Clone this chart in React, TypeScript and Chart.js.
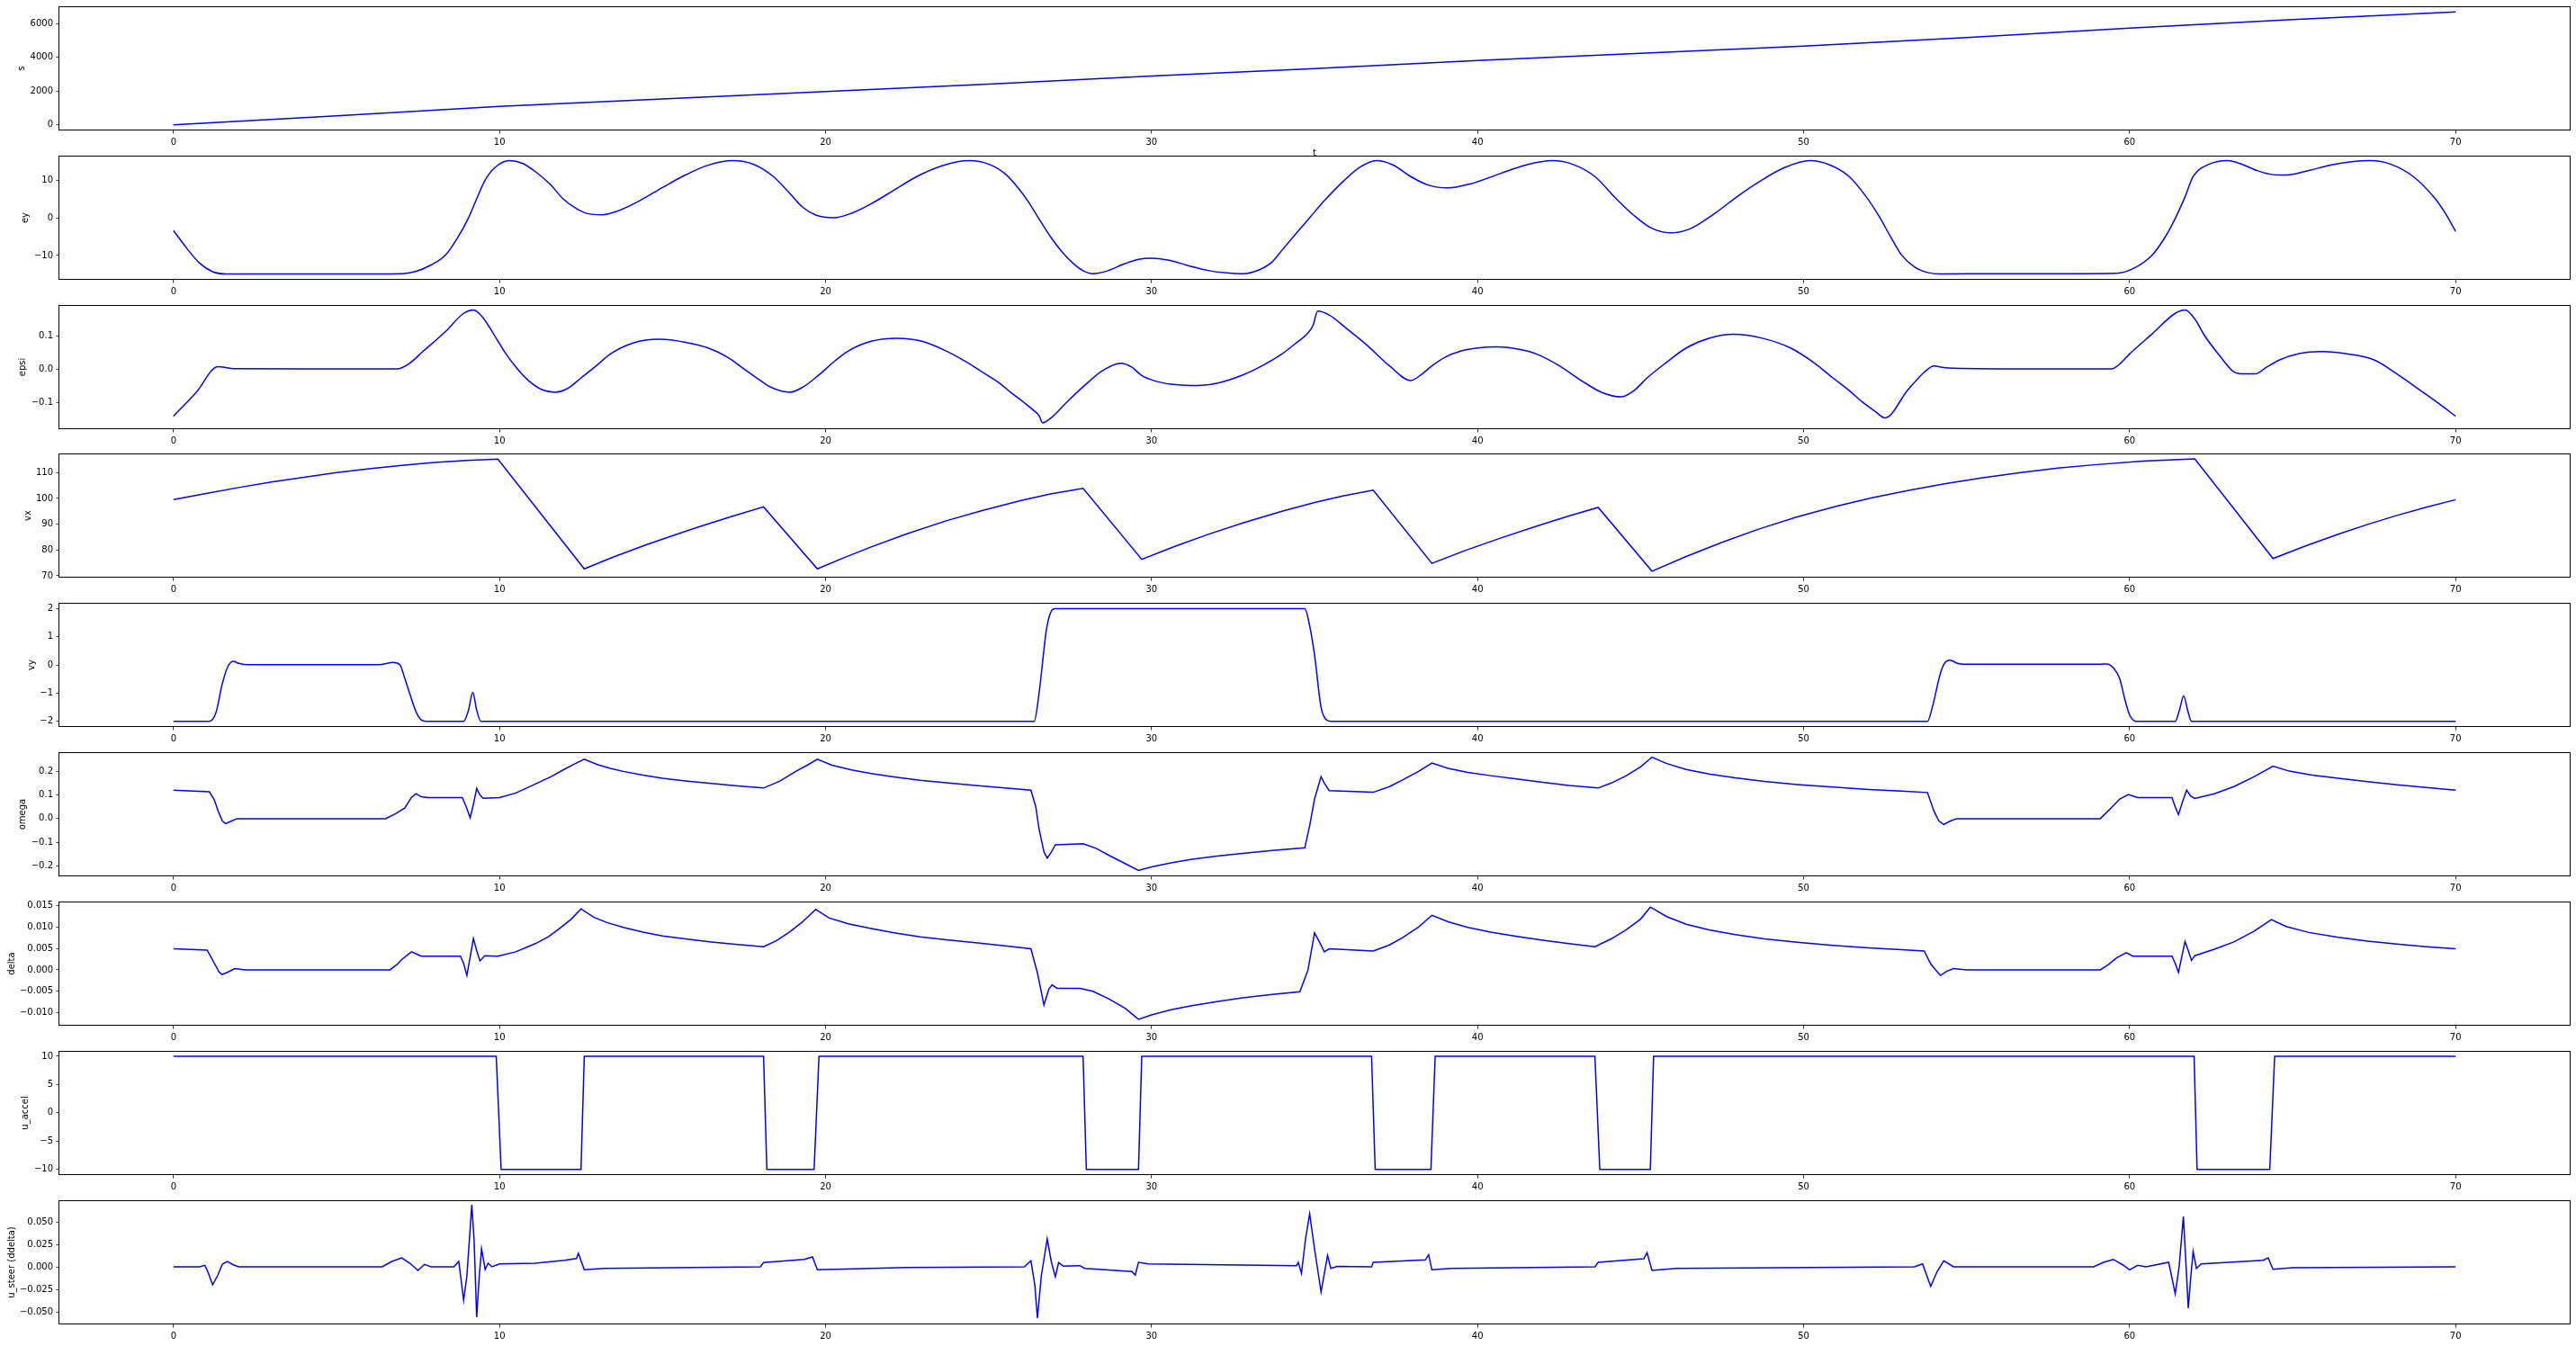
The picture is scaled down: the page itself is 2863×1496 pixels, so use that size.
import React, { useEffect, useRef } from 'react';
import { Chart, registerables } from 'chart.js';
Chart.register(...registerables);

const FONT_FAMILY = "'DejaVu Sans', sans-serif";
const X_TICKS = [0, 10, 20, 30, 40, 50, 60, 70];
const X_LABEL = 't';

// (time, value) readings for each series
const S_DATA: [number, number][] = [[0, 0], [5, 535], [10, 1095], [15, 1535], [20, 1980], [25, 2420], [30, 2900], [35, 3345], [40, 3815], [45, 4245], [50, 4670], [55, 5180], [60, 5740], [65, 6255], [70, 6705]];

const EY_DATA: [number, number][] = [[0, -3.4], [0.4, -8.0], [0.8, -12.0], [1.2, -14.3], [1.6, -14.9], [3, -14.9], [5, -14.9], [7.0, -14.8], [7.4, -14.3], [7.9, -12.5], [8.35, -9.8], [8.7, -5.5], [9.04, -0.2], [9.3, 5], [9.55, 9.8], [9.85, 13.2], [10.3, 15.1], [10.7, 14.4], [11.1, 12.2], [11.56, 8.8], [11.95, 5.0], [12.36, 2.4], [12.7, 1.1], [13.16, 0.8], [13.6, 1.7], [14.3, 4.5], [15.0, 8.0], [15.7, 11.3], [16.4, 13.9], [17.16, 15.1], [17.8, 14.1], [18.4, 10.9], [18.9, 6.5], [19.3, 2.8], [19.7, 0.7], [20.25, 0.0], [20.8, 1.2], [21.4, 3.7], [22.1, 7.3], [22.8, 10.9], [23.6, 13.8], [24.4, 15.1], [25.0, 14.2], [25.5, 11.7], [25.9, 8.0], [26.2, 4.5], [26.6, -1.0], [26.9, -5.0], [27.25, -9.0], [27.6, -12.1], [27.9, -14.0], [28.2, -14.8], [28.6, -14.2], [29.2, -12.1], [29.6, -11.0], [30.0, -10.7], [30.5, -11.2], [31.1, -12.6], [31.7, -13.9], [32.3, -14.6], [32.8, -14.8], [33.3, -13.8], [33.7, -11.7], [34.0, -8.6], [34.5, -3.5], [34.85, 0.0], [35.3, 4.5], [35.9, 9.8], [36.4, 13.4], [36.9, 15.1], [37.4, 14.0], [37.95, 10.9], [38.5, 8.6], [39.1, 7.9], [39.8, 9.0], [40.7, 11.7], [41.5, 14.0], [42.3, 15.1], [42.9, 14.2], [43.6, 10.9], [44.2, 5.5], [44.8, 0.6], [45.3, -2.6], [45.9, -4.0], [46.5, -3.0], [47.3, 1.3], [48.0, 5.8], [48.6, 9.3], [49.4, 13.2], [50.2, 15.1], [50.8, 14.0], [51.4, 10.9], [51.9, 5.8], [52.3, 0.6], [52.7, -5.5], [53.0, -9.8], [53.4, -13.0], [53.8, -14.5], [54.2, -14.9], [56, -14.8], [58, -14.8], [59.6, -14.7], [60.1, -13.5], [60.7, -9.8], [61.1, -5.0], [61.4, -0.2], [61.7, 5.5], [61.95, 10.9], [62.4, 14.0], [63.0, 15.1], [63.4, 14.3], [63.9, 12.5], [64.4, 11.4], [64.8, 11.3], [65.5, 12.5], [66.2, 14.0], [66.8, 14.8], [67.4, 15.1], [68.0, 14.2], [68.7, 10.9], [69.35, 5.3], [69.7, 1.0], [70.0, -3.6]];

const EPSI_DATA: [number, number][] = [[0, -0.142], [0.7, -0.07], [1.37, 0.007], [1.6, 0.004], [1.83, 0.001], [4, 0.0], [6.86, 0.0], [7.2, 0.014], [7.67, 0.054], [8.35, 0.113], [8.9, 0.167], [9.2, 0.177], [9.5, 0.153], [9.85, 0.1], [10.2, 0.045], [10.55, 0.0], [10.9, -0.036], [11.3, -0.062], [11.7, -0.07], [12.1, -0.058], [12.5, -0.027], [13.0, 0.012], [13.4, 0.045], [14.1, 0.078], [14.9, 0.089], [15.7, 0.08], [16.4, 0.063], [17.0, 0.035], [17.5, 0.0], [18.0, -0.035], [18.3, -0.054], [18.9, -0.07], [19.3, -0.055], [19.8, -0.018], [20.3, 0.025], [20.7, 0.054], [21.4, 0.083], [22.2, 0.092], [23.0, 0.082], [23.7, 0.054], [24.3, 0.022], [24.8, -0.009], [25.3, -0.04], [25.7, -0.072], [26.1, -0.102], [26.4, -0.126], [26.55, -0.14], [26.66, -0.162], [26.93, -0.146], [27.4, -0.1], [28.0, -0.045], [28.5, -0.005], [29.06, 0.017], [29.4, 0.005], [29.7, -0.02], [30.1, -0.036], [30.6, -0.046], [31.2, -0.05], [32.0, -0.043], [32.8, -0.018], [33.4, 0.01], [34.0, 0.045], [34.4, 0.075], [34.8, 0.108], [34.95, 0.13], [35.1, 0.174], [35.45, 0.162], [36.0, 0.12], [36.6, 0.072], [37.3, 0.009], [37.95, -0.035], [38.3, -0.015], [38.6, 0.009], [39.0, 0.035], [39.5, 0.054], [40.0, 0.063], [40.6, 0.066], [41.2, 0.06], [41.8, 0.045], [42.5, 0.01], [43.2, -0.036], [43.8, -0.07], [44.4, -0.084], [44.8, -0.065], [45.2, -0.027], [45.8, 0.02], [46.4, 0.063], [47.1, 0.092], [47.85, 0.104], [48.7, 0.093], [49.6, 0.063], [50.3, 0.02], [50.9, -0.027], [51.4, -0.065], [51.8, -0.099], [52.2, -0.128], [52.5, -0.147], [53.2, -0.063], [53.7, -0.01], [54.0, 0.009], [54.3, 0.004], [54.6, 0.002], [57, 0.0], [59.45, 0.0], [59.7, 0.015], [60.0, 0.045], [60.7, 0.106], [61.4, 0.167], [61.7, 0.177], [62.0, 0.15], [62.3, 0.1], [62.8, 0.035], [63.2, -0.009], [63.5, -0.015], [63.85, -0.015], [64.2, 0.005], [64.6, 0.027], [65.2, 0.046], [65.9, 0.052], [66.7, 0.045], [67.5, 0.027], [68.2, -0.015], [68.9, -0.063], [69.5, -0.105], [70.0, -0.142]];

const VX_DATA: [number, number][] = [[0, 99.5], [1, 101.9], [2, 104.2], [3, 106.3], [4, 108.2], [5, 110.0], [6, 111.5], [7, 112.8], [8, 113.9], [9, 114.7], [9.95, 115.2], [12.6, 72.7], [13.5, 77.3], [14.5, 82.0], [15.3, 85.5], [16.1, 88.9], [17.1, 92.9], [18.1, 96.7], [19.75, 72.7], [20.6, 77.2], [21.4, 81.2], [22.5, 86.3], [23.7, 91.3], [24.8, 95.3], [26.0, 99.2], [26.9, 101.7], [27.9, 103.9], [29.7, 76.4], [30.7, 81.3], [31.7, 85.9], [32.8, 90.5], [34.0, 95.0], [35.0, 98.4], [35.9, 101.0], [36.8, 103.2], [38.6, 74.8], [39.6, 79.7], [40.7, 84.6], [41.9, 89.6], [42.8, 93.2], [43.7, 96.5], [45.35, 71.8], [46.4, 77.5], [47.5, 83.0], [48.6, 88.0], [49.8, 92.8], [51.0, 96.9], [52.1, 100.2], [53.3, 103.3], [54.4, 105.8], [55.5, 108.0], [56.6, 109.9], [57.8, 111.7], [58.9, 113.0], [60.4, 114.4], [62.0, 115.3], [64.4, 76.7], [65.4, 81.6], [66.4, 86.1], [67.3, 89.9], [68.2, 93.4], [69.1, 96.6], [70.0, 99.5]];

const VY_DATA: [number, number][] = [[0, -2], [1.1, -2], [1.3, -1.7], [1.49, -0.7], [1.65, -0.1], [1.83, 0.13], [2.0, 0.06], [2.29, 0.01], [6.3, 0.01], [6.75, 0.09], [6.95, 0.0], [7.1, -0.49], [7.3, -1.2], [7.44, -1.66], [7.6, -1.95], [7.75, -2], [8.9, -2], [9.05, -1.6], [9.18, -0.97], [9.3, -1.6], [9.43, -2], [26.4, -2], [26.55, -1.0], [26.77, 1.21], [26.9, 1.85], [27.05, 2.0], [34.7, 2.0], [34.85, 1.4], [35.0, 0.36], [35.2, -1.5], [35.35, -1.93], [35.5, -2], [53.8, -2], [53.95, -1.5], [54.2, -0.28], [54.35, 0.1], [54.5, 0.17], [54.7, 0.07], [54.9, 0.03], [59.1, 0.03], [59.3, 0.04], [59.5, -0.1], [59.7, -0.49], [59.85, -1.2], [60.0, -1.77], [60.2, -2], [61.4, -2], [61.53, -1.6], [61.66, -1.1], [61.78, -1.6], [61.9, -2], [70, -2]];

const OMEGA_DATA: [number, number][] = [[0, 0.12], [1.1, 0.113], [1.25, 0.08], [1.37, 0.032], [1.5, -0.01], [1.6, -0.021], [1.75, -0.012], [1.95, 0.0], [6.5, 0.0], [6.8, 0.02], [7.1, 0.045], [7.3, 0.09], [7.44, 0.105], [7.6, 0.092], [7.8, 0.089], [8.86, 0.089], [8.98, 0.05], [9.1, 0.004], [9.2, 0.06], [9.3, 0.127], [9.4, 0.1], [9.5, 0.086], [10.0, 0.089], [10.5, 0.108], [11.1, 0.146], [11.6, 0.178], [12.0, 0.209], [12.3, 0.23], [12.6, 0.25], [13.0, 0.228], [13.4, 0.212], [13.8, 0.199], [14.4, 0.183], [15.0, 0.17], [15.7, 0.159], [16.5, 0.148], [17.3, 0.138], [18.1, 0.129], [18.6, 0.158], [19.1, 0.2], [19.45, 0.226], [19.75, 0.25], [20.2, 0.225], [20.8, 0.205], [21.4, 0.19], [22.1, 0.176], [22.9, 0.162], [23.7, 0.151], [24.6, 0.14], [25.5, 0.129], [26.3, 0.12], [26.45, 0.05], [26.55, -0.044], [26.7, -0.14], [26.8, -0.166], [26.93, -0.14], [27.05, -0.11], [27.9, -0.106], [28.3, -0.125], [28.7, -0.155], [29.2, -0.19], [29.6, -0.218], [30.0, -0.203], [30.6, -0.186], [31.2, -0.172], [32.0, -0.158], [32.8, -0.146], [33.7, -0.134], [34.7, -0.123], [34.85, -0.03], [35.0, 0.083], [35.2, 0.177], [35.3, 0.15], [35.45, 0.118], [36.8, 0.111], [37.3, 0.135], [37.7, 0.163], [38.2, 0.2], [38.6, 0.234], [39.1, 0.212], [39.7, 0.195], [40.4, 0.181], [41.2, 0.167], [42.0, 0.153], [42.8, 0.14], [43.7, 0.129], [44.1, 0.15], [44.55, 0.18], [45.0, 0.218], [45.35, 0.259], [45.8, 0.232], [46.4, 0.207], [47.1, 0.188], [47.9, 0.172], [48.8, 0.157], [49.8, 0.144], [50.9, 0.133], [52.0, 0.123], [53.0, 0.116], [53.8, 0.11], [54.0, 0.032], [54.15, -0.01], [54.3, -0.025], [54.5, -0.01], [54.7, 0.0], [59.1, 0.0], [59.4, 0.04], [59.7, 0.083], [59.96, 0.102], [60.25, 0.089], [61.3, 0.089], [61.4, 0.05], [61.5, 0.017], [61.62, 0.07], [61.75, 0.12], [61.88, 0.095], [62.0, 0.085], [62.6, 0.105], [63.2, 0.135], [63.8, 0.175], [64.4, 0.221], [64.9, 0.2], [65.6, 0.183], [66.4, 0.17], [67.3, 0.156], [68.2, 0.143], [69.1, 0.131], [70.0, 0.12]];

const DELTA_DATA: [number, number][] = [[0, 0.0049], [1.03, 0.0046], [1.15, 0.003], [1.26, 0.0014], [1.4, -0.0005], [1.49, -0.0011], [1.65, -0.0006], [1.88, 0.0003], [2.2, 0.0], [6.64, 0.0], [6.85, 0.0012], [7.0, 0.0024], [7.3, 0.0042], [7.45, 0.0037], [7.6, 0.0032], [8.8, 0.0032], [8.9, 0.0015], [9.0, -0.0013], [9.1, 0.003], [9.2, 0.0073], [9.3, 0.0045], [9.4, 0.0021], [9.55, 0.0033], [9.95, 0.0032], [10.5, 0.0042], [11.1, 0.0061], [11.5, 0.0077], [11.8, 0.0094], [12.2, 0.0118], [12.5, 0.0142], [12.9, 0.0122], [13.3, 0.011], [13.8, 0.0099], [14.4, 0.0088], [15.0, 0.0079], [15.7, 0.0072], [16.5, 0.0065], [17.3, 0.0059], [18.1, 0.0054], [18.5, 0.0068], [18.9, 0.0088], [19.3, 0.0112], [19.7, 0.0141], [20.1, 0.0121], [20.7, 0.0107], [21.4, 0.0096], [22.1, 0.0086], [22.9, 0.0077], [23.7, 0.007], [24.6, 0.0063], [25.5, 0.0056], [26.3, 0.0049], [26.5, -0.0007], [26.7, -0.0082], [26.85, -0.0045], [26.95, -0.0035], [27.1, -0.0043], [27.8, -0.0043], [28.2, -0.005], [28.7, -0.0068], [29.2, -0.009], [29.6, -0.0115], [30.0, -0.0105], [30.6, -0.0093], [31.2, -0.0084], [32.0, -0.0074], [32.8, -0.0065], [33.7, -0.0057], [34.55, -0.0051], [34.8, 0.0], [35.0, 0.0086], [35.15, 0.0065], [35.3, 0.0042], [35.45, 0.0049], [36.8, 0.0044], [37.3, 0.0058], [37.7, 0.0075], [38.2, 0.01], [38.6, 0.0127], [39.1, 0.0112], [39.7, 0.0099], [40.4, 0.0088], [41.2, 0.0078], [42.0, 0.0069], [42.8, 0.0061], [43.6, 0.0054], [44.1, 0.0072], [44.55, 0.0093], [45.0, 0.0118], [45.3, 0.0146], [45.8, 0.0124], [46.4, 0.0106], [47.1, 0.0093], [47.9, 0.0082], [48.8, 0.0072], [49.8, 0.0064], [50.9, 0.0057], [52.0, 0.0051], [53.0, 0.0047], [53.7, 0.0044], [53.9, 0.0014], [54.05, 0.0], [54.2, -0.0013], [54.4, -0.0003], [54.6, 0.0003], [55, 0.0], [59.1, 0.0], [59.35, 0.0012], [59.6, 0.0028], [59.9, 0.004], [60.1, 0.0032], [61.3, 0.0032], [61.4, 0.0015], [61.5, -0.0006], [61.6, 0.003], [61.7, 0.0066], [61.8, 0.0045], [61.9, 0.0022], [62.0, 0.0033], [62.6, 0.0048], [63.2, 0.0065], [63.8, 0.0089], [64.35, 0.0117], [64.8, 0.0101], [65.5, 0.0087], [66.4, 0.0076], [67.3, 0.0067], [68.2, 0.006], [69.1, 0.0054], [70.0, 0.0049]];

const U_ACCEL_DATA: [number, number][] = [[0, 10], [9.9, 10], [10.05, -10], [12.5, -10], [12.6, 10], [18.1, 10], [18.2, -10], [19.65, -10], [19.8, 10], [27.9, 10], [28.0, -10], [29.6, -10], [29.7, 10], [36.75, 10], [36.86, -10], [38.57, -10], [38.7, 10], [43.6, 10], [43.75, -10], [45.3, -10], [45.4, 10], [61.98, 10], [62.07, -10], [64.3, -10], [64.45, 10], [70, 10]];

const U_STEER_DATA: [number, number][] = [[0, 0], [0.8, 0], [0.96, 0.0017], [1.05, -0.005], [1.2, -0.02], [1.35, -0.01], [1.5, 0.003], [1.65, 0.006], [1.85, 0.002], [2.0, 0], [6.4, 0], [6.7, 0.006], [7.0, 0.01], [7.25, 0.004], [7.5, -0.004], [7.7, 0.0027], [7.9, 0], [8.6, 0], [8.75, 0.006], [8.9, -0.037], [9.0, -0.01], [9.15, 0.069], [9.22, 0.03], [9.3, -0.056], [9.38, -0.01], [9.45, 0.02], [9.56, -0.003], [9.65, 0.004], [9.77, 0], [10.0, 0.0033], [11.1, 0.004], [12.0, 0.0073], [12.36, 0.0093], [12.42, 0.015], [12.6, -0.0033], [13.2, -0.0017], [18.0, 0], [18.1, 0.0047], [19.35, 0.0083], [19.6, 0.011], [19.75, -0.0033], [22.5, -0.0007], [26.1, 0], [26.3, 0.0067], [26.42, -0.02], [26.5, -0.057], [26.62, -0.01], [26.8, 0.031], [26.93, 0.005], [27.05, -0.011], [27.15, 0.0047], [27.3, 0.0007], [27.8, 0.0013], [27.95, -0.0017], [29.4, -0.0053], [29.5, -0.0093], [29.6, 0.005], [29.9, 0.0033], [34.45, 0.0013], [34.5, 0.005], [34.6, -0.0073], [34.72, 0.03], [34.85, 0.059], [35.0, 0.02], [35.2, -0.028], [35.4, 0.0127], [35.5, -0.0017], [35.7, 0.0005], [36.75, 0], [36.8, 0.005], [38.4, 0.0077], [38.5, 0.0133], [38.6, -0.0033], [39.2, -0.0017], [43.6, 0], [43.7, 0.005], [45.1, 0.009], [45.2, 0.0157], [45.35, -0.004], [46.1, -0.0017], [53.4, 0], [53.65, 0.0033], [53.9, -0.0217], [54.1, -0.005], [54.3, 0.0067], [54.6, 0], [58.9, 0], [59.2, 0.005], [59.5, 0.0083], [59.8, 0.002], [60.0, -0.0033], [60.25, 0.0017], [60.5, 0], [61.2, 0.005], [61.4, -0.03], [61.52, 0.0], [61.65, 0.056], [61.72, 0.01], [61.8, -0.046], [61.88, -0.01], [61.95, 0.017], [62.05, -0.0017], [62.2, 0.0033], [64.1, 0.0073], [64.25, 0.01], [64.4, -0.0027], [65.0, -0.001], [70.0, 0]];

// axis settings per panel
const Y_LABELS = ['s', 'ey', 'epsi', 'vx', 'vy', 'omega', 'delta', 'u_accel', 'u_steer (ddelta)'];
const Y_TICKS = [
  [0, 2000, 4000, 6000],
  [-10, 0, 10],
  [-0.1, 0.0, 0.1],
  [70, 80, 90, 100, 110],
  [-2, -1, 0, 1, 2],
  [-0.2, -0.1, 0.0, 0.1, 0.2],
  [-0.010, -0.005, 0.0, 0.005, 0.010, 0.015],
  [-10, -5, 0, 5, 10],
  [-0.050, -0.025, 0.0, 0.025, 0.050],
];
const Y_DECIMALS = [0, 0, 1, 0, 0, 1, 3, 0, 3];
const Y_LIMITS: [number, number][] = [
  [-335, 7040], [-16.43, 16.43], [-0.181, 0.192], [69.3, 117.4], [-2.2, 2.21],
  [-0.243, 0.28], [-0.013, 0.0159], [-11, 10.95], [-0.064, 0.074],
];
const SERIES = [S_DATA, EY_DATA, EPSI_DATA, VX_DATA, VY_DATA, OMEGA_DATA, DELTA_DATA, U_ACCEL_DATA, U_STEER_DATA];
const SMOOTH = [false, true, true, false, true, false, false, false, false];

const X_MIN = -3.5;
const X_MAX = 73.5;
const PAGE_W = 2863;
const CANVAS_TOPS = [0, 166, 332, 497, 663, 829, 995, 1161, 1327];
const PANEL_H = 166;

const fmt = (v: number, d: number) => {
  const s = Math.abs(v) < 1e-12 ? (0).toFixed(d) : v.toFixed(d);
  return s.replace('-', '\u2212');
};

const framePlugin = {
  id: 'frame',
  afterDraw(chart: any, _args: any, opts: any) {
    const { ctx, chartArea: a } = chart;
    ctx.save();
    ctx.strokeStyle = '#000';
    ctx.lineWidth = 1;
    ctx.strokeRect(Math.round(a.left) - 0.5, Math.round(a.top) + 0.5, Math.round(a.right - a.left) + 1, Math.round(a.bottom - a.top) - 1);
    ctx.font = `10px ${FONT_FAMILY}`;
    ctx.fillStyle = '#000';
    let maxW = 0;
    chart.scales.y.ticks.forEach((t: any) => {
      const w = ctx.measureText(String(t.label)).width;
      if (w > maxW) maxW = w;
    });
    const x = a.left - 7 - maxW - 4 - 2.4;
    ctx.save();
    ctx.translate(x, (a.top + a.bottom) / 2);
    ctx.rotate(-Math.PI / 2);
    ctx.textAlign = 'center';
    ctx.textBaseline = 'alphabetic';
    ctx.fillText(opts.ylabel, 0, 0);
    ctx.restore();
    if (opts.xlabel) {
      ctx.textAlign = 'center';
      ctx.textBaseline = 'alphabetic';
      ctx.fillText(opts.xlabel, (a.left + a.right) / 2, a.bottom + 27.5);
    }
    ctx.restore();
  },
};

function Panel({ idx }: { idx: number }) {
  const ref = useRef<HTMLCanvasElement>(null);
  const height = idx === 0 ? 176 : PANEL_H;
  const bottomPad = idx === 0 ? 10 : 0;
  useEffect(() => {
    const pts = SERIES[idx].map(([x, y]) => ({ x, y }));
    const font = { family: FONT_FAMILY, size: 10 };
    const chart = new Chart(ref.current as HTMLCanvasElement, {
      type: 'line',
      data: {
        datasets: [{
          data: pts,
          borderColor: '#0000ff',
          borderWidth: 1.5,
          pointRadius: 0,
          fill: false,
          tension: 0,
          cubicInterpolationMode: SMOOTH[idx] ? 'monotone' : 'default',
        } as any],
      },
      options: {
        animation: false,
        responsive: false,
        devicePixelRatio: 1,
        events: [],
        layout: { padding: { left: 0, right: 7, top: 7, bottom: bottomPad } },
        plugins: {
          legend: { display: false },
          tooltip: { enabled: false },
          frame: { ylabel: Y_LABELS[idx], xlabel: idx === 0 ? X_LABEL : '' },
        } as any,
        scales: {
          x: {
            type: 'linear',
            min: X_MIN,
            max: X_MAX,
            afterBuildTicks: (s: any) => { s.ticks = X_TICKS.map((value) => ({ value })); },
            afterFit: (s: any) => { s.height = 21; s.paddingLeft = 0; s.paddingRight = 0; },
            ticks: { autoSkip: false, maxRotation: 0, minRotation: 0, padding: 3.5, font, color: '#000', callback: (v: any) => fmt(Number(v), 0) },
            grid: { drawOnChartArea: false, drawTicks: true, tickLength: 3.5, color: '#000', lineWidth: 0.8 },
            border: { display: false },
          },
          y: {
            type: 'linear',
            min: Y_LIMITS[idx][0],
            max: Y_LIMITS[idx][1],
            afterBuildTicks: (s: any) => { s.ticks = Y_TICKS[idx].map((value) => ({ value })); },
            afterFit: (s: any) => { s.width = 66; s.paddingTop = 0; s.paddingBottom = 0; },
            ticks: { autoSkip: false, padding: 3.5, font, color: '#000', callback: (v: any) => fmt(Number(v), Y_DECIMALS[idx]) },
            grid: { drawOnChartArea: false, drawTicks: true, tickLength: 3.5, color: '#000', lineWidth: 0.8 },
            border: { display: false },
          },
        },
      } as any,
      plugins: [framePlugin as any],
    });
    return () => chart.destroy();
  }, [idx]);
  return (
    <canvas
      ref={ref}
      width={PAGE_W}
      height={height}
      style={{ position: 'absolute', left: 0, top: CANVAS_TOPS[idx], width: PAGE_W, height, display: 'block' }}
    />
  );
}

export default function App() {
  return (
    <div style={{ position: 'absolute', left: 0, top: 0, width: PAGE_W, height: 1496, background: '#fff', overflow: 'hidden' }}>
      {SERIES.map((_, i) => <Panel key={i} idx={i} />)}
    </div>
  );
}
